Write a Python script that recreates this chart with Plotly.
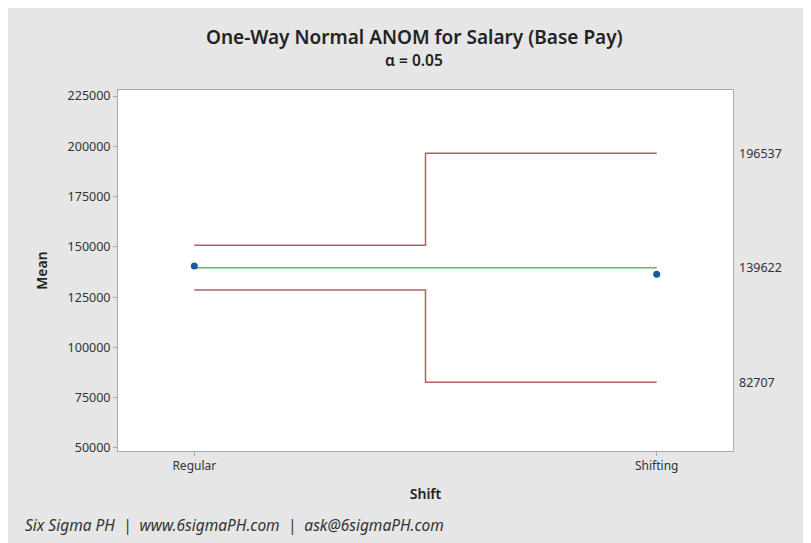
import plotly.graph_objects as go

groups = ["Regular", "Shifting"]
group_means = [140500, 136400]
center_line = 139622
upper_limits = [150800, 196537]
lower_limits = [128600, 82707]
y_ticks = [50000, 75000, 100000, 125000, 150000, 175000, 200000, 225000]
limit_labels = ["196537", "139622", "82707"]

xpos = list(range(1, len(groups) + 1))
mid = (xpos[0] + xpos[1]) / 2
step_x = [xpos[0], mid, xpos[1]]

LIM = "#b55f5f"
CEN = "#62b862"
PT = "#1c5a9c"
FONT = "Noto Sans"

fig = go.Figure()
fig.add_trace(go.Scatter(x=step_x, y=[upper_limits[0], upper_limits[1], upper_limits[1]],
                         mode="lines", line=dict(color=LIM, width=1.5, shape="hv"), hoverinfo="skip"))
fig.add_trace(go.Scatter(x=step_x, y=[lower_limits[0], lower_limits[1], lower_limits[1]],
                         mode="lines", line=dict(color=LIM, width=1.5, shape="hv"), hoverinfo="skip"))
fig.add_trace(go.Scatter(x=[xpos[0], xpos[-1]], y=[center_line, center_line],
                         mode="lines", line=dict(color=CEN, width=1.5), hoverinfo="skip"))
fig.add_trace(go.Scatter(x=xpos, y=group_means, mode="markers",
                         marker=dict(color=PT, size=7)))

label_vals = [upper_limits[1], center_line, lower_limits[1]]
annotations = []
for v, t in zip(label_vals, limit_labels):
    annotations.append(dict(x=1.0, xref="paper", y=v, yref="y", text=t, showarrow=False,
                            xanchor="left", xshift=4, font=dict(size=12.5, color="#333", family=FONT)))
annotations.append(dict(x=0.482, xref="paper", y=1, yref="paper", yanchor="middle", yshift=53,
                        text="One-Way Normal ANOM for Salary (Base Pay)",
                        showarrow=False, font=dict(size=19, color="#222", family=FONT, weight=600)))
annotations.append(dict(x=0.482, xref="paper", y=1, yref="paper", yanchor="middle", yshift=30,
                        text="α = 0.05",
                        showarrow=False, font=dict(size=15.5, color="#222", family=FONT, weight=600)))
annotations.append(dict(x=-0.1545, xref="paper", xanchor="left", y=0, yref="paper", yanchor="middle", yshift=-74,
                        text="<i>Six Sigma PH  |  www.6sigmaPH.com  |  ask@6sigmaPH.com</i>",
                        showarrow=False, font=dict(size=15.5, color="#333", family=FONT)))

fig.update_layout(
    width=811, height=543,
    margin=dict(l=110, r=86, t=82, b=100),
    paper_bgcolor="#e6e6e6",
    plot_bgcolor="white",
    showlegend=False,
    font=dict(family=FONT, color="#333"),
    annotations=annotations,
)
fig.update_xaxes(range=[0.835, 2.165], tickvals=xpos, ticktext=groups, showgrid=False, zeroline=False,
                 ticks="outside", ticklen=4, tickcolor="#aaa", showline=True, linecolor="#aaa", mirror=True,
                 tickfont=dict(size=12, color="#333"),
                 title=dict(text="Shift", font=dict(size=14, color="#222", weight=600), standoff=15))
fig.update_yaxes(range=[48500, 228000], tickvals=y_ticks, showgrid=False, zeroline=False,
                 ticks="outside", ticklen=4, tickcolor="#aaa", showline=True, linecolor="#aaa", mirror=True,
                 tickfont=dict(size=12.5, color="#333"), tickformat="d",
                 title=dict(text="Mean", font=dict(size=14, color="#222", weight=600), standoff=16))

fig.write_html("out.html")
